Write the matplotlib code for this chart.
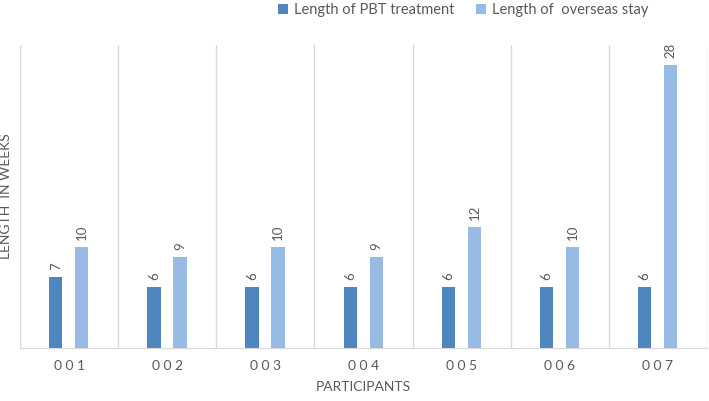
import numpy as np
import matplotlib.pyplot as plt

participants = ['001', '002', '003', '004', '005', '006', '007']
pbt_weeks = [7, 6, 6, 6, 6, 6, 6]
overseas_weeks = [10, 9, 10, 9, 12, 10, 28]

plt.rcParams['font.family'] = ['Lato', 'DejaVu Sans']

dark = '#4f86be'
light = '#97bbe2'
grey = '#595959'

fig = plt.figure(figsize=(7.09, 4.01), dpi=100)
ax = fig.add_axes([20 / 709, 53 / 401, 687 / 709, 303 / 401])

x = np.arange(len(participants))
w = 0.135
b1 = ax.bar(x - 0.135, pbt_weeks, w, color=dark, label='Length of PBT treatment')
b2 = ax.bar(x + 0.13, overseas_weeks, w, color=light, label='Length of  overseas stay')

for bars in (b1, b2):
    for r in bars:
        ax.annotate(str(int(r.get_height())), (r.get_x() + r.get_width() / 2, r.get_height()),
                    xytext=(0, 5), textcoords='offset points', ha='center', va='bottom',
                    rotation=90, fontsize=9.5, color=grey)

ax.set_xlim(-0.5, len(participants) - 0.5)
ax.set_ylim(0, 30)

# category separators like excel
for b in np.arange(-0.5, len(participants), 1.0):
    ax.axvline(b, color='#d9d9d9', lw=1, zorder=0)

for s in ['top', 'right', 'left']:
    ax.spines[s].set_visible(False)
ax.spines['bottom'].set_color('#d9d9d9')

ax.set_yticks([])
ax.set_xticks(x)
ax.set_xticklabels([' '.join(p) for p in participants], fontsize=10, color=grey)
ax.tick_params(axis='x', length=0, pad=9)

ax.set_xlabel('PARTICIPANTS', fontsize=10, color=grey, labelpad=6)
ax.set_ylabel('LENGTH  IN WEEKS', fontsize=10, color=grey, labelpad=6)

ax.legend(loc='center', bbox_to_anchor=(0.645, 1.115), ncol=2, frameon=False,
          fontsize=10.5, handlelength=0.7, handleheight=0.7, columnspacing=1.5,
          handletextpad=0.4, labelcolor=grey, borderaxespad=0, borderpad=0)

fig.savefig('out.png', dpi=100)
